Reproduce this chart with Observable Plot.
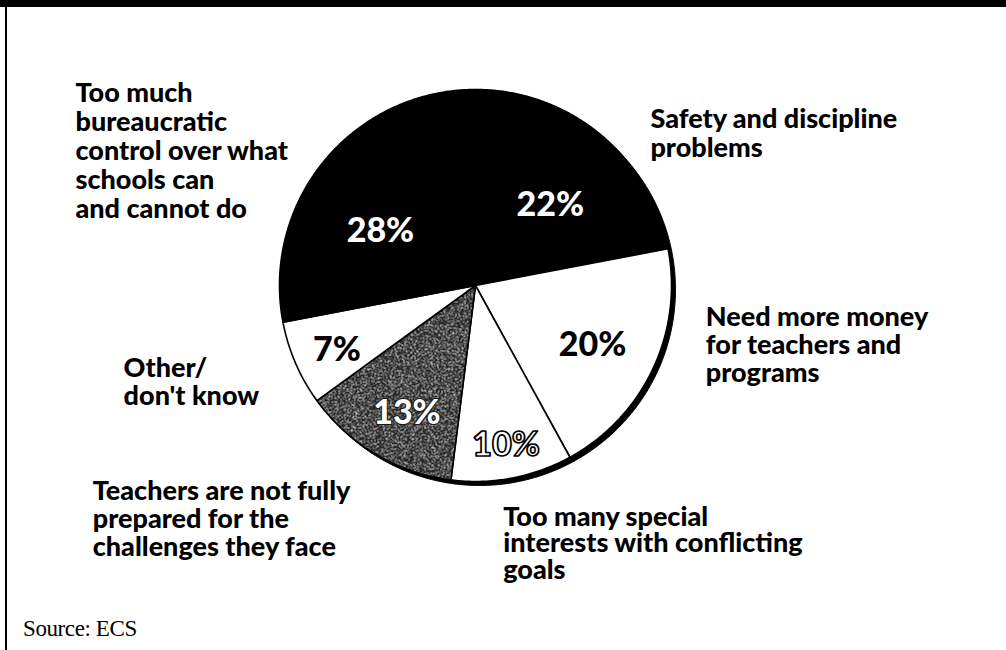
<!DOCTYPE html>
<html>
<head>
<meta charset="utf-8">
<script src="https://cdn.jsdelivr.net/npm/d3@7"></script>
<script src="https://cdn.jsdelivr.net/npm/@observablehq/plot@0.6"></script>
<style>
  html, body { margin: 0; padding: 0; background: #fff; overflow: hidden; }
  #wrap { position: relative; width: 1006px; height: 650px; background: #fff; }
  #chart svg { display: block; background: transparent !important; }
  #topbar { position: absolute; left: 0; top: 0; width: 1006px; height: 7px; background: #000; }
  #leftbar { position: absolute; left: 5px; top: 0; width: 2px; height: 650px; background: #000; }
  #caption { position: absolute; left: 23px; top: 616px; font-family: "Liberation Serif", "Times New Roman", serif;
             font-size: 23px; line-height: 26px; letter-spacing: -0.4px; color: #000; }
</style>
</head>
<body>
<div id="wrap">
  <div id="chart"></div>
  <div id="topbar"></div>
  <div id="leftbar"></div>
  <div id="caption">Source: ECS</div>
</div>
<script>
// ---------- data ----------
const categories = [
  "Safety and discipline\nproblems",
  "Need more money\nfor teachers and\nprograms",
  "Too many special\ninterests with conflicting\ngoals",
  "Teachers are not fully\nprepared for the\nchallenges they face",
  "Other/\ndon't know",
  "Too much\nbureaucratic\ncontrol over what\nschools can\nand cannot do"
];
const values = [22, 20, 10, 13, 7, 28];
const valueLabels = ["22%", "20%", "10%", "13%", "7%", "28%"];

// ---------- styles / layout (not data) ----------
const sliceFill = ["#000", "#fff", "#fff", "url(#stipple)", "#fff", "#000"];
const pctFill   = ["#fff", "#000", "#fff", "#fff", "#000", "#fff"];
const pctStroke = ["none", "none", "#000", "#1a1a1a", "none", "none"];
const pctStrokeWidth = [0, 0, 1.7, 2.2, 0, 0];
const pctPaintOrder = ["normal", "normal", "normal", "stroke", "normal", "normal"];
const pctRadius = [0.56, 0.67, 0.83, 0.74, 0.78, 0.56];
const pctAngleShift = [3.4, 1.8, 0, -2.4, -1.6, -9.6];           // degrees
const labelNudge = [[50, -27], [53, -63], [-9, 29], [-283, 26], [-172, -6], [-249, -79]];
const labelSpacing = [29, 28, 26.5, 28, 28, 29];                  // px between baselines
const labelFontSize = 27;

// ---------- geometry from values ----------
const arcs = d3.pie().sort(null).value(d => d)(values);
const points = [];
arcs.forEach((a, i) => {
  points.push({i, x: 0, y: 0});
  const n = Math.max(2, Math.ceil((a.endAngle - a.startAngle) / (Math.PI / 360)));
  for (let k = 0; k <= n; ++k) {
    const t = a.startAngle + (a.endAngle - a.startAngle) * k / n;
    points.push({i, x: Math.sin(t), y: Math.cos(t)});
  }
  points.push({i, x: 0, y: 0});
});
const mid = a => (a.startAngle + a.endAngle) / 2;

const defsMark = () => {
  const g = document.createElementNS("http://www.w3.org/2000/svg", "g");
  g.innerHTML = `<defs>
    <filter id="grain" x="0" y="0" width="100%" height="100%">
      <feTurbulence type="fractalNoise" baseFrequency="0.7" numOctaves="3" seed="5" result="n"/>
      <feColorMatrix in="n" type="matrix" values="0 0 0 0 1  0 0 0 0 1  0 0 0 0 1  7 0 0 0 -3.6"/>
    </filter>
    <pattern id="stipple" patternUnits="userSpaceOnUse" x="0" y="0" width="1006" height="650">
      <rect width="1006" height="650" fill="#262626"/>
      <rect width="1006" height="650" fill="#fff" filter="url(#grain)" opacity="0.8"/>
    </pattern>
  </defs>`;
  return g;
};

const font = "Lato, 'Open Sans', sans-serif";

const labelMarks = arcs.map((a, i) => Plot.text([a], {
  x: d => Math.sin(mid(d)),
  y: d => Math.cos(mid(d)),
  text: () => categories[i],
  dx: labelNudge[i][0],
  dy: labelNudge[i][1],
  textAnchor: "start",
  lineAnchor: "top",
  lineHeight: labelSpacing[i] / labelFontSize,
  fontSize: labelFontSize,
  fontWeight: 900,
  letterSpacing: 1.1,
  fontFamily: font,
  fill: "#000"
}));

const pctMarks = arcs.map((a, i) => Plot.text([a], {
  x: d => pctRadius[i] * Math.sin(mid(d) + pctAngleShift[i] * Math.PI / 180),
  y: d => pctRadius[i] * Math.cos(mid(d) + pctAngleShift[i] * Math.PI / 180),
  text: () => valueLabels[i],
  fill: pctFill[i],
  stroke: pctStroke[i],
  strokeWidth: pctStrokeWidth[i],
  paintOrder: pctPaintOrder[i],
  fontSize: 34,
  fontWeight: 900,
  fontFamily: font,
  letterSpacing: -2
}));

const chart = Plot.plot({
  width: 1006,
  height: 615,
  marginLeft: 279,
  marginRight: 335,
  marginTop: 89,
  marginBottom: 134,
  x: {domain: [-1, 1], axis: null},
  y: {domain: [-1, 1], axis: null},
  color: {type: "identity"},
  style: {background: "transparent"},
  marks: [
    defsMark,
    // drop shadow
    Plot.line(points, {x: "x", y: "y", z: "i", fill: "#000", stroke: "#000", strokeWidth: 1, dx: 4, dy: 4}),
    // slices
    Plot.line(points, {x: "x", y: "y", z: "i", fill: d => sliceFill[d.i], stroke: "#000", strokeWidth: 1.6, strokeLinejoin: "round"}),
    ...pctMarks,
    ...labelMarks
  ]
});
document.getElementById("chart").appendChild(chart);
</script>
</body>
</html>
